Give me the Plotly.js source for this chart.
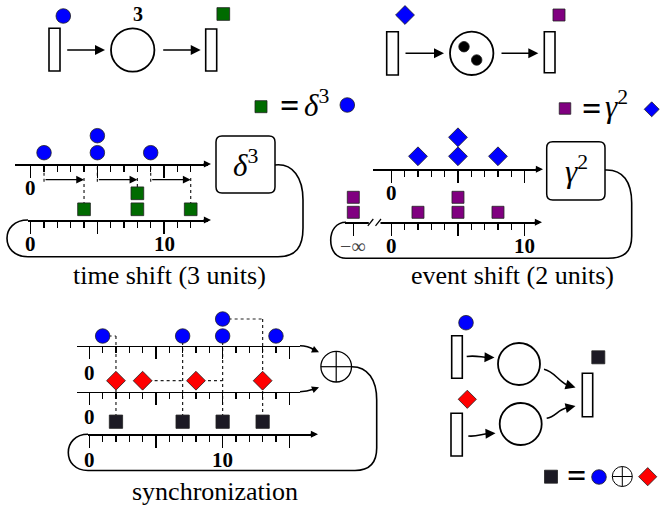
<!DOCTYPE html>
<html><head><meta charset="utf-8">
<script src="https://cdn.plot.ly/plotly-3.0.1.min.js"></script>
<style>html,body{margin:0;padding:0;background:#fff}#chart{width:663px;height:510px}</style>
</head><body><div id="chart"></div>
<script>
// ---------------- data (event times, in time units) ----------------
const deltaIn  = [1, 5, 5, 9];                 // blue circles entering delta^3
const deltaOut = [4, 8, 8, 12];                // green squares leaving delta^3
const gammaIn  = [2, 5, 5, 8];                 // blue diamonds entering gamma^2
const gammaOut = [-Infinity, -Infinity, 2, 5, 5, 8]; // purple squares leaving gamma^2
const syncBlue = [1, 7, 10, 10, 14];           // blue circles (input 1)
const syncRed  = [2, 4, 8, 13];                // red diamonds (input 2)
const syncOut  = [2, 7, 10, 13];               // black squares (output)

const ticksTo12 = [0,1,2,3,4,5,6,7,8,9,10,11,12];
const ticksTo10 = [0,1,2,3,4,5,6,7,8,9,10];
const ticksTo15 = [0,1,2,3,4,5,6,7,8,9,10,11,12,13,14,15];
const NEG_INF_POS = -2.85;
const labelsTopA = ['0', '', ''];
const labelsBotA = ['0', '', '10'];
const labelsTopB = ['0', '', ''];
const labelsBotB = ['\u2212\u221e', '0', '', '10'];
const labelsSyncIn  = ['0', '', '', ''];
const labelsSyncOut = ['0', '', '10', ''];
const captions = ['time shift (3 units)', 'event shift (2 units)', 'synchronization'];

// ---------------- helpers ----------------
const W = 663, H = 510, UNIT = 40/3;
const SERIF = 'Liberation Serif';
const BLUE = '#0000ff', GREEN = '#006b00', PURPLE = '#800080', RED = '#ff0000', DARK = '#1c1a24';
const mapT = t => Number.isFinite(t) ? t : NEG_INF_POS;
function levels(arr){ const c = {}; return arr.map(t => { const k = String(t); c[k] = (c[k]||0)+1; return c[k]; }); }

const layout = {
  width: W, height: H, margin: {l:0, r:0, t:0, b:0},
  font: {family: SERIF},
  paper_bgcolor: '#fff', plot_bgcolor: 'rgba(0,0,0,0)', showlegend: false,
  xaxis: {domain:[0,1], range:[0,W], visible:false, fixedrange:true},
  yaxis: {domain:[0,1], range:[H,0], visible:false, fixedrange:true},
  shapes: [], annotations: []
};
const traces = [];
const S = layout.shapes, A = layout.annotations;
let axisN = 1;

function addTimeline(cfg){
  axisN++;
  const n = axisN;
  const tmin = (cfg.x0 - cfg.t0)/UNIT, tmax = (cfg.x1 - cfg.t0)/UNIT;
  layout['xaxis'+n] = {
    domain:[cfg.x0/W, cfg.x1/W], range:[tmin, tmax], anchor:'y'+n,
    showline:true, linecolor:'#000', linewidth:1.5, showgrid:false, zeroline:false,
    ticks:'outside', tickmode:'array', tickvals:cfg.major, showticklabels:false,
    ticklen:12, tickwidth:1.5, tickcolor:'#000',
    minor:{tickmode:'array', tickvals:cfg.minor, ticks:'outside', ticklen:6, tickwidth:1.5, tickcolor:'#000', showgrid:false},
    fixedrange:true
  };
  const hdom = 50, r0 = 1 - cfg.off/cfg.step;
  layout['yaxis'+n] = {domain:[1-cfg.lineY/H, 1-(cfg.lineY-hdom)/H], range:[r0, r0+hdom/cfg.step],
    anchor:'x'+n, visible:false, fixedrange:true};
  // tick labels placed on the axis' own scale
  cfg.major.forEach((v,i) => {
    const lab = cfg.labels[i];
    if (!lab) return;
    const isInf = v === NEG_INF_POS;
    A.push({xref:'x'+n, yref:'y', x:v, y:cfg.lineY + (cfg.lab||25), showarrow:false,
      xanchor:'center', yanchor:'middle', text: isInf ? lab : '<b>'+lab+'</b>',
      font:{family:SERIF, size: isInf ? 20 : 21, color: isInf ? '#444' : '#000'}});
  });
  if (cfg.tip) arrow(cfg.tip-9, cfg.lineY, cfg.tip, cfg.lineY, 0.95, 1.5);
  return {x:'x'+n, y:'y'+n, cfg};
}
function pyOf(tl, lv){ return tl.cfg.lineY - tl.cfg.off - (lv-1)*tl.cfg.step; }
function addSeries(tl, data, symbol, size, color){
  traces.push({type:'scatter', mode:'markers', xaxis:tl.x, yaxis:tl.y,
    x:data.map(mapT), y:levels(data),
    marker:{symbol, size, color, line:{color:'#222', width:0.8}}, cliponaxis:false, hoverinfo:'skip'});
}
function arrow(x0,y0,x1,y1,size,width,xref){
  A.push({xref:xref||'x', yref:'y', axref:xref||'x', ayref:'y', x:x1, y:y1, ax:x0, ay:y0, text:'',
    showarrow:true, arrowhead:2, arrowsize:size, arrowwidth:width, arrowcolor:'#000', standoff:0});
}
function line(x0,y0,x1,y1,opt){ S.push(Object.assign({type:'line', xref:'x', yref:'y', x0,y0,x1,y1, line:{color:'#000', width:1.6}}, opt||{})); }
function dotted(xref,x0,y0,x1,y1){ S.push({type:'line', xref, yref:'y', x0,y0,x1,y1, layer:'below', line:{color:'#222', width:1.2, dash:'dot'}}); }
function rect(x0,y0,x1,y1){ S.push({type:'rect', xref:'x', yref:'y', x0,y0,x1,y1, layer:'below', line:{color:'#000', width:1.6}, fillcolor:'#fff'}); }
function circ(cx,cy,r,w){ S.push({type:'circle', xref:'x', yref:'y', x0:cx-r,y0:cy-r,x1:cx+r,y1:cy+r, layer:'below', line:{color:'#000', width:w||1.8}, fillcolor:'#fff'}); }
function path(d,w){ S.push({type:'path', xref:'x', yref:'y', path:d, line:{color:'#000', width:w||1.6}}); }
function rrect(x0,y0,x1,y1,r){ path(`M${x0+r},${y0} L${x1-r},${y0} Q${x1},${y0} ${x1},${y0+r} L${x1},${y1-r} Q${x1},${y1} ${x1-r},${y1} L${x0+r},${y1} Q${x0},${y1} ${x0},${y1-r} L${x0},${y0+r} Q${x0},${y0} ${x0+r},${y0} Z`, 1.5); }
function text(x,y,t,size,opt){ A.push(Object.assign({xref:'x', yref:'y', x, y, text:t, showarrow:false, xanchor:'center', yanchor:'middle',
  font:{family:SERIF, size, color:'#000'}}, opt||{})); }
function glyph(x,y,symbol,size,color){ traces.push({type:'scatter', mode:'markers', xaxis:'x', yaxis:'y', x:[x], y:[y],
  marker:{symbol,size,color,line:{color:'#222',width:0.8}}, cliponaxis:false, hoverinfo:'skip'}); }

// ---------------- time shift panel ----------------
const aTop = addTimeline({t0:30.7, lineY:164, x0:15, x1:208, tip:211, off:11.3, step:17, minor:ticksTo12, major:[0,5,10], labels:labelsTopA, lab:24});
const aBot = addTimeline({t0:30.7, lineY:220, x0:28, x1:208, tip:211, off:10.7, step:16, minor:ticksTo12, major:[0,5,10], labels:labelsBotA, lab:24});
addSeries(aTop, deltaIn, 'circle', 14.5, BLUE);
addSeries(aBot, deltaOut, 'square', 12.7, GREEN);
{
  const outLv = levels(deltaOut);
  const seen = {};
  deltaIn.forEach((t,i) => {
    if (seen[t]) return; seen[t] = true;
    const to = deltaOut[i];
    let top = 0; deltaOut.forEach((u,j) => { if (u===to) top = Math.max(top, outLv[j]); });
    dotted(aTop.x, t, 166.7, t, 183.3);
    A.push({xref:aTop.x, yref:'y', axref:aTop.x, ayref:'y', x:to, y:179.7, ax:t, ay:179.7, text:'',
      showarrow:true, arrowhead:2, arrowsize:1.3, arrowwidth:1.2, arrowcolor:'#000', standoff:0});
    dotted(aBot.x, to, 178, to, pyOf(aBot, top) - 6.4);
  });
}
rrect(216, 136, 275, 193, 6);
text(245.5, 163, '<i>δ</i><sup>3</sup>', 31);
path('M275,165 C293,163 303,178 303,200 L303,228 C303,247 296,256.7 278,256.7 L28,256.7 C14,256.7 7,248 7,238.3 C7,229 14,220 28,220');
text(169, 275, captions[0], 26);

// ---------------- event shift panel ----------------
const bTop = addTimeline({t0:391.3, lineY:169.3, x0:373, x1:540, tip:543, off:13, step:19, minor:ticksTo10, major:[0,5,10], labels:labelsTopB, lab:24});
const bBot = addTimeline({t0:391.3, lineY:222.3, x0:345, x1:539, tip:542, off:10, step:15, minor:ticksTo10, major:[NEG_INF_POS,0,5,10], labels:labelsBotB, lab:24});
addSeries(bTop, gammaIn, 'diamond', 14.5, BLUE);
addSeries(bBot, gammaOut, 'square', 12, PURPLE);
S.push({type:'rect', xref:'x', yref:'y', x0:368.8, x1:380.5, y0:219.5, y1:225, line:{width:0}, fillcolor:'#fff', layer:'above'});
line(367.8,225.8,373.3,219, {layer:'above', line:{color:'#000', width:1.2}});
line(375.5,225.8,381,219, {layer:'above', line:{color:'#000', width:1.2}});
rrect(546.7, 141.7, 605, 200, 6);
text(576, 169, '<i>γ</i><sup>2</sup>', 31);
path('M605,170 C623,169 631.7,182 631.7,203 L631.7,236 C631.7,252 624,258.3 608,258.3 L346,258.3 C336,258.3 330.7,250 330.7,240.3 C330.7,230.5 336,222.3 346,222.3');
text(512.5, 275, captions[1], 26);

// ---------------- synchronization panel ----------------
const cTop = addTimeline({t0:89.3, lineY:345.7, x0:76.7, x1:300, off:9.7, step:17, minor:ticksTo15, major:[0,5,10,15], labels:labelsSyncIn, lab:27});
const cMid = addTimeline({t0:89.3, lineY:391.7, x0:76.7, x1:300, off:11, step:19, minor:ticksTo15, major:[0,5,10,15], labels:labelsSyncIn, lab:25.6});
const cBot = addTimeline({t0:89.3, lineY:434.3, x0:88, x1:315, tip:318, off:12.6, step:16, minor:ticksTo15, major:[0,5,10,15], labels:labelsSyncOut, lab:26});
addSeries(cTop, syncBlue, 'circle', 14.5, BLUE);
addSeries(cMid, syncRed, 'diamond', 14.5, RED);
addSeries(cBot, syncOut, 'square', 13.3, DARK);
{
  const bl = levels(syncBlue), rl = levels(syncRed), ol = levels(syncOut);
  for (let k = 0; k < syncOut.length; k++){
    const tb = syncBlue[k], tr = syncRed[k], to = syncOut[k];
    const yb = pyOf(cTop, bl[k]), yr = pyOf(cMid, rl[k]), yo = pyOf(cBot, ol[k]) - 6.7;
    if (tr > tb) {
      dotted(cTop.x, tb, yb, tr, yb);
      dotted(cTop.x, tr, yb, to, yo);
    } else {
      dotted(cMid.x, tr, yr, tb, yr);
      dotted(cTop.x, tb, yb, to, yo);
    }
  }
}
path('M300,345.7 C309,345.7 312,348.5 316,350.8');
arrow(310.5, 348.3, 319, 352.2, 0.95, 1.5);
path('M300,391.7 C309,391.7 312,389.5 316,388.3');
arrow(310.5, 390.5, 319, 387.2, 0.95, 1.5);
circ(336.2, 366.7, 15.3, 1.3);
line(320.9, 366.7, 351.5, 366.7, {line:{color:'#000', width:1.2}});
line(336.2, 351.4, 336.2, 382, {line:{color:'#000', width:1.2}});
path('M351.5,366.7 C368,366.5 376.7,380 376.7,400 L376.7,448 C376.7,463 370,470.5 355,470.5 L88,470.5 C75,470.5 68.3,462 68.3,452.4 C68.3,443 75,434.3 88,434.3');
text(214.7, 491, captions[2], 26);

// ---------------- Petri net: time shift ----------------
rect(49, 28.3, 60, 71);
circ(132.7, 50, 21.7);
rect(205.7, 29, 216.7, 71);
arrow(65.7, 50, 105, 50, 1.33, 1.5);
arrow(161.7, 50, 200.7, 50, 1.33, 1.5);
text(137.5, 13.5, '<b>3</b>', 20);
glyph(63.3, 16, 'circle', 14.6, BLUE);
glyph(223.3, 14, 'square', 12.7, GREEN);
glyph(261, 106.7, 'square', 12, GREEN);
text(289, 105.5, '<b>=</b>', 34);
text(302, 103, '<i>δ</i><sup>3</sup>', 31, {xanchor:'left'});
glyph(347.3, 105, 'circle', 14.6, BLUE);

// ---------------- Petri net: event shift ----------------
rect(386.7, 31.7, 398.3, 75);
circ(471.7, 53.3, 21.7);
glyph(464, 46.7, 'circle', 10.5, '#000');
glyph(476.7, 60, 'circle', 10.5, '#000');
rect(544.3, 31.7, 555, 72.7);
arrow(404, 53.3, 444, 53.3, 1.33, 1.5);
arrow(500, 53.3, 538.3, 53.3, 1.33, 1.5);
glyph(405, 15, 'diamond', 14.5, BLUE);
glyph(559, 15, 'square', 12, PURPLE);
glyph(565, 108.5, 'square', 11.5, PURPLE);
text(591.7, 108.5, '<b>=</b>', 34);
text(603, 104, '<i>γ</i><sup>2</sup>', 31, {xanchor:'left'});
glyph(651.7, 109.3, 'diamond', 11.5, BLUE);

// ---------------- Petri net: synchronization ----------------
rect(451.7, 335.7, 462.3, 378.3);
rect(451, 413.3, 462.3, 456);
rect(582.3, 373.3, 592.7, 416.7);
circ(519, 364, 21);
circ(520.7, 424, 21);
path('M466.7,356.5 C476,355 482,357.5 488,357.4');
arrow(486, 357.3, 494.5, 357.6, 1.33, 1.5);
path('M544,369.3 C553,371 558,380 566,384.5');
arrow(566, 384.5, 575.5, 387.5, 1.33, 1.5);
path('M546.7,418.3 C555,417 558,410 566,408');
arrow(566, 408, 575.5, 406, 1.33, 1.5);
path('M468.3,436 C476,437 482,434 488,433.6');
arrow(487, 433.7, 495.5, 433.3, 1.33, 1.5);
glyph(466, 322.7, 'circle', 14.6, BLUE);
glyph(467.3, 399.3, 'diamond', 14, RED);
glyph(598.3, 357.3, 'square', 13, DARK);
glyph(551, 476.7, 'square', 13, DARK);
text(576, 475.5, '<b>=</b>', 34);
glyph(599, 477, 'circle', 14.6, BLUE);
circ(622.3, 476.5, 10, 1);
line(612.3, 476.5, 632.3, 476.5, {line:{color:'#000', width:1}});
line(622.3, 466.5, 622.3, 486.5, {line:{color:'#000', width:1}});
glyph(647.7, 476.7, 'diamond', 14, RED);

Plotly.newPlot('chart', traces, layout, {staticPlot:true, displayModeBar:false});
</script></body></html>
